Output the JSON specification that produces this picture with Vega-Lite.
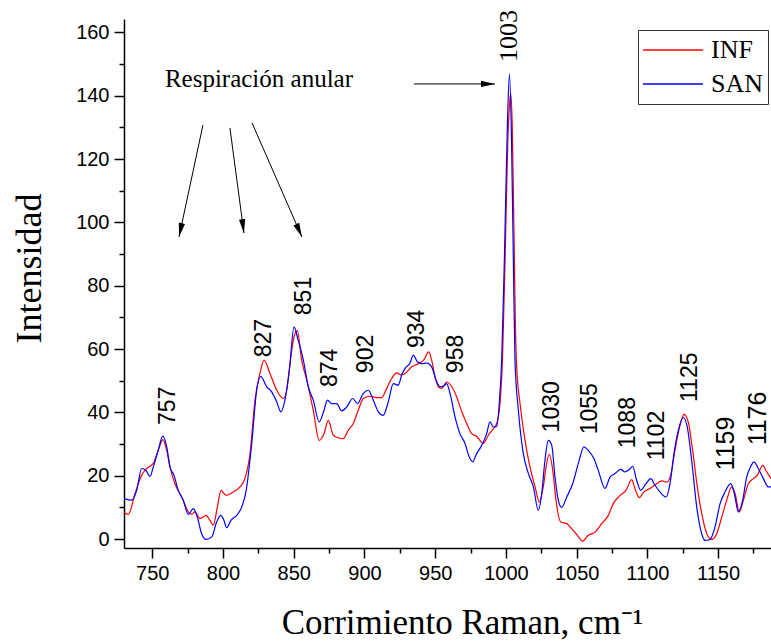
{
  "$schema": "https://vega.github.io/schema/vega-lite/v6.json",
  "width": 647,
  "height": 529,
  "autosize": {"type": "none"},
  "padding": {"left": 124, "top": 19, "right": 0, "bottom": 94},
  "config": {
    "view": {"stroke": null},
    "axis": {"grid": false, "domainColor": "black", "tickColor": "black", "labelColor": "black", "titleColor": "black", "domainWidth": 1.5, "tickWidth": 1.5}
  },
  "datasets": {
    "spectra": [
      {"x":730,"y":8.5,"s":"INF"},{"x":733,"y":7.8,"s":"INF"},{"x":737.8,"y":14.4,"s":"INF"},{"x":742.5,"y":20.2,"s":"INF"},{"x":746,"y":22.3,"s":"INF"},{"x":750.7,"y":23.9,"s":"INF"},{"x":755,"y":29.1,"s":"INF"},{"x":757.4,"y":31.4,"s":"INF"},{"x":760.2,"y":28,"s":"INF"},{"x":762.5,"y":22.8,"s":"INF"},{"x":766,"y":17.5,"s":"INF"},{"x":770.8,"y":13.3,"s":"INF"},{"x":775.5,"y":8.6,"s":"INF"},{"x":777.8,"y":7.8,"s":"INF"},{"x":780.2,"y":8.6,"s":"INF"},{"x":783.7,"y":6.5,"s":"INF"},{"x":788,"y":7.5,"s":"INF"},{"x":790.8,"y":5.9,"s":"INF"},{"x":793.1,"y":4.4,"s":"INF"},{"x":796,"y":10.1,"s":"INF"},{"x":798.6,"y":15.4,"s":"INF"},{"x":802.1,"y":13.8,"s":"INF"},{"x":807.3,"y":14.9,"s":"INF"},{"x":812,"y":16.5,"s":"INF"},{"x":815.5,"y":19.1,"s":"INF"},{"x":819.1,"y":27,"s":"INF"},{"x":822.6,"y":43.9,"s":"INF"},{"x":826.1,"y":52.3,"s":"INF"},{"x":829,"y":56.5,"s":"INF"},{"x":833.2,"y":52.3,"s":"INF"},{"x":838,"y":47,"s":"INF"},{"x":842.6,"y":44.4,"s":"INF"},{"x":845,"y":47,"s":"INF"},{"x":847.5,"y":56,"s":"INF"},{"x":850,"y":63.5,"s":"INF"},{"x":852.5,"y":65.8,"s":"INF"},{"x":855.6,"y":56.5,"s":"INF"},{"x":859.2,"y":50.2,"s":"INF"},{"x":863.8,"y":40.7,"s":"INF"},{"x":868,"y":31.2,"s":"INF"},{"x":871.4,"y":33.3,"s":"INF"},{"x":874.4,"y":37.5,"s":"INF"},{"x":878,"y":32.8,"s":"INF"},{"x":881.5,"y":32,"s":"INF"},{"x":885,"y":31.7,"s":"INF"},{"x":888.6,"y":34.4,"s":"INF"},{"x":892.1,"y":36.5,"s":"INF"},{"x":895.6,"y":40.7,"s":"INF"},{"x":899.2,"y":44.4,"s":"INF"},{"x":903.9,"y":45.1,"s":"INF"},{"x":908.6,"y":44.7,"s":"INF"},{"x":912.2,"y":44.7,"s":"INF"},{"x":915.7,"y":47.6,"s":"INF"},{"x":919.2,"y":50.7,"s":"INF"},{"x":922.8,"y":52.5,"s":"INF"},{"x":926.3,"y":51.8,"s":"INF"},{"x":928.7,"y":52.3,"s":"INF"},{"x":933.4,"y":54.4,"s":"INF"},{"x":938.1,"y":55.4,"s":"INF"},{"x":942.1,"y":56.7,"s":"INF"},{"x":945.4,"y":59.1,"s":"INF"},{"x":947.5,"y":56.5,"s":"INF"},{"x":949.9,"y":51.2,"s":"INF"},{"x":952.2,"y":48.1,"s":"INF"},{"x":954.6,"y":47.6,"s":"INF"},{"x":958.1,"y":49.6,"s":"INF"},{"x":961.7,"y":48.1,"s":"INF"},{"x":965.2,"y":44.9,"s":"INF"},{"x":968.8,"y":40.2,"s":"INF"},{"x":972.3,"y":36.5,"s":"INF"},{"x":975.8,"y":33.3,"s":"INF"},{"x":979.3,"y":32.5,"s":"INF"},{"x":984,"y":30.2,"s":"INF"},{"x":987.6,"y":32.8,"s":"INF"},{"x":991.1,"y":34.9,"s":"INF"},{"x":993.5,"y":36.5,"s":"INF"},{"x":995.8,"y":42.8,"s":"INF"},{"x":997.7,"y":58.6,"s":"INF"},{"x":999.5,"y":90,"s":"INF"},{"x":1001.3,"y":125,"s":"INF"},{"x":1002.5,"y":137,"s":"INF"},{"x":1003.4,"y":140.7,"s":"INF"},{"x":1004.5,"y":130,"s":"INF"},{"x":1005.6,"y":100,"s":"INF"},{"x":1006.6,"y":70,"s":"INF"},{"x":1007.6,"y":54.4,"s":"INF"},{"x":1010,"y":42.8,"s":"INF"},{"x":1013.5,"y":31.2,"s":"INF"},{"x":1017,"y":22.8,"s":"INF"},{"x":1020.6,"y":16.5,"s":"INF"},{"x":1023.7,"y":11.7,"s":"INF"},{"x":1026.4,"y":16.5,"s":"INF"},{"x":1028.8,"y":23.9,"s":"INF"},{"x":1030.7,"y":26.8,"s":"INF"},{"x":1033.1,"y":21.7,"s":"INF"},{"x":1035.4,"y":12.3,"s":"INF"},{"x":1038.7,"y":5.4,"s":"INF"},{"x":1043,"y":4.9,"s":"INF"},{"x":1046.5,"y":3.3,"s":"INF"},{"x":1050.5,"y":1.2,"s":"INF"},{"x":1054.3,"y":-0.6,"s":"INF"},{"x":1058.2,"y":1.2,"s":"INF"},{"x":1063,"y":2.2,"s":"INF"},{"x":1067.7,"y":4.9,"s":"INF"},{"x":1072.4,"y":7.5,"s":"INF"},{"x":1075.9,"y":11.2,"s":"INF"},{"x":1080.7,"y":13.8,"s":"INF"},{"x":1084.9,"y":15.4,"s":"INF"},{"x":1088.9,"y":18.8,"s":"INF"},{"x":1091.2,"y":16,"s":"INF"},{"x":1094.3,"y":13.1,"s":"INF"},{"x":1097.6,"y":14.9,"s":"INF"},{"x":1101.9,"y":16,"s":"INF"},{"x":1106.6,"y":17.5,"s":"INF"},{"x":1110.1,"y":18.4,"s":"INF"},{"x":1113.7,"y":18,"s":"INF"},{"x":1116.5,"y":20.2,"s":"INF"},{"x":1119.5,"y":28,"s":"INF"},{"x":1123.1,"y":36,"s":"INF"},{"x":1125.9,"y":39.4,"s":"INF"},{"x":1128.9,"y":37,"s":"INF"},{"x":1132,"y":28,"s":"INF"},{"x":1135.3,"y":16.5,"s":"INF"},{"x":1138.4,"y":8.1,"s":"INF"},{"x":1142,"y":1.7,"s":"INF"},{"x":1145.5,"y":-0.1,"s":"INF"},{"x":1149,"y":1.7,"s":"INF"},{"x":1152.6,"y":7,"s":"INF"},{"x":1156.1,"y":12.3,"s":"INF"},{"x":1159.6,"y":16.5,"s":"INF"},{"x":1162,"y":14.4,"s":"INF"},{"x":1165,"y":8.6,"s":"INF"},{"x":1167.9,"y":12.3,"s":"INF"},{"x":1171.4,"y":17.5,"s":"INF"},{"x":1174.9,"y":19.1,"s":"INF"},{"x":1177.8,"y":20.2,"s":"INF"},{"x":1181.6,"y":23.3,"s":"INF"},{"x":1184.4,"y":21.2,"s":"INF"},{"x":1187.4,"y":19.1,"s":"INF"},
      {"x":730,"y":12.8,"s":"SAN"},{"x":735.4,"y":12.3,"s":"SAN"},{"x":739,"y":15.4,"s":"SAN"},{"x":742.5,"y":22.3,"s":"SAN"},{"x":745.5,"y":21.7,"s":"SAN"},{"x":748.4,"y":19.8,"s":"SAN"},{"x":750.7,"y":22.8,"s":"SAN"},{"x":754.2,"y":28,"s":"SAN"},{"x":757.4,"y":32.5,"s":"SAN"},{"x":760.2,"y":29.1,"s":"SAN"},{"x":762.5,"y":22.8,"s":"SAN"},{"x":765.3,"y":20.2,"s":"SAN"},{"x":768.4,"y":15.4,"s":"SAN"},{"x":771.9,"y":12.3,"s":"SAN"},{"x":775.5,"y":7.8,"s":"SAN"},{"x":779,"y":9.6,"s":"SAN"},{"x":781.8,"y":7,"s":"SAN"},{"x":784.9,"y":1.7,"s":"SAN"},{"x":788,"y":-0.1,"s":"SAN"},{"x":792,"y":0.7,"s":"SAN"},{"x":795.5,"y":5.4,"s":"SAN"},{"x":798.4,"y":7.5,"s":"SAN"},{"x":800.7,"y":5.9,"s":"SAN"},{"x":802.6,"y":3.6,"s":"SAN"},{"x":805.6,"y":5.9,"s":"SAN"},{"x":809.7,"y":7.5,"s":"SAN"},{"x":813.2,"y":10.1,"s":"SAN"},{"x":816.2,"y":14.9,"s":"SAN"},{"x":820.3,"y":30.2,"s":"SAN"},{"x":823.8,"y":47,"s":"SAN"},{"x":826.6,"y":51.4,"s":"SAN"},{"x":830.9,"y":48.1,"s":"SAN"},{"x":834.4,"y":46.5,"s":"SAN"},{"x":838,"y":43.3,"s":"SAN"},{"x":840.8,"y":40.2,"s":"SAN"},{"x":843.8,"y":43.9,"s":"SAN"},{"x":846.9,"y":53.3,"s":"SAN"},{"x":850.2,"y":67,"s":"SAN"},{"x":853,"y":63,"s":"SAN"},{"x":856.8,"y":56.5,"s":"SAN"},{"x":860.3,"y":48.1,"s":"SAN"},{"x":863.8,"y":43.9,"s":"SAN"},{"x":868,"y":37,"s":"SAN"},{"x":871.4,"y":40.7,"s":"SAN"},{"x":873.8,"y":43.9,"s":"SAN"},{"x":876.8,"y":42.8,"s":"SAN"},{"x":880.4,"y":42.8,"s":"SAN"},{"x":883.9,"y":40.5,"s":"SAN"},{"x":887.4,"y":41.7,"s":"SAN"},{"x":891.7,"y":44.4,"s":"SAN"},{"x":895,"y":42.8,"s":"SAN"},{"x":899.2,"y":46,"s":"SAN"},{"x":902.7,"y":47,"s":"SAN"},{"x":906.2,"y":43.9,"s":"SAN"},{"x":909.8,"y":40.2,"s":"SAN"},{"x":913.3,"y":39.1,"s":"SAN"},{"x":916.8,"y":43.3,"s":"SAN"},{"x":920.4,"y":49.1,"s":"SAN"},{"x":923.9,"y":48.6,"s":"SAN"},{"x":926.3,"y":51.8,"s":"SAN"},{"x":928.7,"y":53.9,"s":"SAN"},{"x":932.2,"y":55.6,"s":"SAN"},{"x":934.5,"y":58.1,"s":"SAN"},{"x":937.4,"y":56,"s":"SAN"},{"x":940.5,"y":55.4,"s":"SAN"},{"x":944,"y":55.6,"s":"SAN"},{"x":947.5,"y":54.4,"s":"SAN"},{"x":950.6,"y":50.2,"s":"SAN"},{"x":953.4,"y":48.1,"s":"SAN"},{"x":955.8,"y":48.3,"s":"SAN"},{"x":958.1,"y":49.1,"s":"SAN"},{"x":960.5,"y":46,"s":"SAN"},{"x":964,"y":38.6,"s":"SAN"},{"x":967.5,"y":33.3,"s":"SAN"},{"x":971.1,"y":30.2,"s":"SAN"},{"x":974.1,"y":25.9,"s":"SAN"},{"x":976.5,"y":24.4,"s":"SAN"},{"x":979.3,"y":27,"s":"SAN"},{"x":982.9,"y":29.6,"s":"SAN"},{"x":986.4,"y":33.3,"s":"SAN"},{"x":988.7,"y":37,"s":"SAN"},{"x":991.1,"y":35.4,"s":"SAN"},{"x":993.5,"y":35.6,"s":"SAN"},{"x":995.3,"y":42.8,"s":"SAN"},{"x":997,"y":56.5,"s":"SAN"},{"x":999,"y":90,"s":"SAN"},{"x":1001,"y":130,"s":"SAN"},{"x":1002.5,"y":146.8,"s":"SAN"},{"x":1004,"y":125,"s":"SAN"},{"x":1005.2,"y":90,"s":"SAN"},{"x":1006.4,"y":56.5,"s":"SAN"},{"x":1008.8,"y":40.7,"s":"SAN"},{"x":1012.3,"y":27,"s":"SAN"},{"x":1015.9,"y":20.7,"s":"SAN"},{"x":1019.4,"y":16.5,"s":"SAN"},{"x":1022.9,"y":9.1,"s":"SAN"},{"x":1025.3,"y":14.4,"s":"SAN"},{"x":1027.6,"y":24.9,"s":"SAN"},{"x":1030,"y":31.2,"s":"SAN"},{"x":1032.4,"y":29.6,"s":"SAN"},{"x":1034.7,"y":19.6,"s":"SAN"},{"x":1037,"y":12.3,"s":"SAN"},{"x":1039.4,"y":10,"s":"SAN"},{"x":1043,"y":13.3,"s":"SAN"},{"x":1047.2,"y":17.5,"s":"SAN"},{"x":1051.2,"y":23.9,"s":"SAN"},{"x":1055.2,"y":29.1,"s":"SAN"},{"x":1058.2,"y":28,"s":"SAN"},{"x":1062.3,"y":25.4,"s":"SAN"},{"x":1065.3,"y":21.7,"s":"SAN"},{"x":1070,"y":16,"s":"SAN"},{"x":1073.6,"y":19.6,"s":"SAN"},{"x":1077.1,"y":20.7,"s":"SAN"},{"x":1081.1,"y":22,"s":"SAN"},{"x":1084.2,"y":21.2,"s":"SAN"},{"x":1087.2,"y":22,"s":"SAN"},{"x":1089.6,"y":23,"s":"SAN"},{"x":1092.4,"y":18.6,"s":"SAN"},{"x":1095.3,"y":15.4,"s":"SAN"},{"x":1099,"y":17.5,"s":"SAN"},{"x":1102.4,"y":19.1,"s":"SAN"},{"x":1105.4,"y":17,"s":"SAN"},{"x":1108.9,"y":14.9,"s":"SAN"},{"x":1113.2,"y":13.3,"s":"SAN"},{"x":1116,"y":17.5,"s":"SAN"},{"x":1118.8,"y":27,"s":"SAN"},{"x":1121.9,"y":34.4,"s":"SAN"},{"x":1125.4,"y":38.4,"s":"SAN"},{"x":1128.2,"y":35.4,"s":"SAN"},{"x":1131.3,"y":24.9,"s":"SAN"},{"x":1134.9,"y":10.1,"s":"SAN"},{"x":1138.4,"y":1.7,"s":"SAN"},{"x":1140.7,"y":-0.4,"s":"SAN"},{"x":1144.3,"y":-0.1,"s":"SAN"},{"x":1147.8,"y":3.8,"s":"SAN"},{"x":1151.4,"y":11.2,"s":"SAN"},{"x":1154.9,"y":14.9,"s":"SAN"},{"x":1158.9,"y":17.5,"s":"SAN"},{"x":1161.5,"y":14.4,"s":"SAN"},{"x":1164.3,"y":8.6,"s":"SAN"},{"x":1167.4,"y":12.3,"s":"SAN"},{"x":1170.2,"y":19.6,"s":"SAN"},{"x":1173.1,"y":23,"s":"SAN"},{"x":1175.4,"y":24.4,"s":"SAN"},{"x":1178.4,"y":22.3,"s":"SAN"},{"x":1182,"y":19.1,"s":"SAN"},{"x":1185.5,"y":16.5,"s":"SAN"},{"x":1187.4,"y":16.5,"s":"SAN"}
    ],
    "picos": [
      {"x":761.1,"y":36,"t":"757"},{"x":829,"y":57.4,"t":"827"},{"x":857.2,"y":70.7,"t":"851"},{"x":875.6,"y":48,"t":"874"},{"x":901.1,"y":52.4,"t":"902"},{"x":937.2,"y":60.3,"t":"934"},{"x":964.7,"y":52.4,"t":"958"},{"x":1032.6,"y":33.7,"t":"1030"},{"x":1059.5,"y":33.1,"t":"1055"},{"x":1086.3,"y":28.7,"t":"1088"},{"x":1106.8,"y":24.9,"t":"1102"},{"x":1129.9,"y":43.3,"t":"1125"}
    ],
    "picos_grandes": [
      {"x":1155.6,"y":21.7,"t":"1159"},{"x":1178.2,"y":29.6,"t":"1176"}
    ],
    "pico_central": [
      {"x":1002.5,"y":150.6,"t":"1003"}
    ],
    "nota": [
      {"x":825.4,"y":142.7,"t":"Respiración anular"}
    ],
    "flechas": [
      {"id":"a1","x":785.8,"y":130.7,"x2":768.9,"y2":95.4},
      {"id":"a2","x":804.9,"y":129.8,"x2":814.8,"y2":96.6},
      {"id":"a3","x":820.5,"y":131.4,"x2":855.8,"y2":95.4},
      {"id":"a4","x":935.0,"y":143.7,"x2":992.3,"y2":143.7}
    ],
    "puntas": [
      {"id":"a1","x":768.9,"y":95.4},
      {"id":"a2","x":814.8,"y":96.6},
      {"id":"a3","x":855.8,"y":95.4},
      {"id":"a4","x":992.3,"y":143.7}
    ]
  },
  "encoding": {
    "x": {"field": "x", "type": "quantitative", "scale": {"domain": [730, 1187.4], "nice": false, "zero": false}, "axis": null},
    "y": {"field": "y", "type": "quantitative", "scale": {"domain": [-2.8, 164.2], "nice": false, "zero": false}, "axis": null}
  },
  "layer": [
    {
      "data": {"values": [{"x": 750, "y": 0}]},
      "mark": {"type": "point", "opacity": 0},
      "encoding": {
        "x": {"field": "x", "type": "quantitative", "scale": {"domain": [730, 1187.4], "nice": false, "zero": false},
          "axis": {"orient": "bottom", "values": [775, 825, 875, 925, 975, 1025, 1075, 1125, 1175], "labels": false, "domain": false, "tickSize": 5, "title": null}},
        "y": {"field": "y", "type": "quantitative", "scale": {"domain": [-2.8, 164.2], "nice": false, "zero": false},
          "axis": {"orient": "left", "values": [10, 30, 50, 70, 90, 110, 130, 150], "labels": false, "domain": false, "tickSize": 5, "title": null}}
      }
    },
    {
      "data": {"values": [{"x": 750, "y": 0}]},
      "mark": {"type": "point", "opacity": 0},
      "encoding": {
        "x": {"field": "x", "type": "quantitative", "scale": {"domain": [730, 1187.4], "nice": false, "zero": false},
          "axis": {"orient": "bottom", "values": [750, 800, 850, 900, 950, 1000, 1050, 1100, 1150], "format": "d", "tickSize": 10, "labelFont": "Liberation Sans", "labelFontSize": 20, "labelPadding": 5,
            "title": "Corrimiento Raman, cm⁻¹", "titleFont": "Liberation Serif", "titleFontSize": 35, "titleFontWeight": "normal", "titleX": 338, "titleY": 85, "titleBaseline": "alphabetic", "titleAlign": "center"}},
        "y": {"field": "y", "type": "quantitative", "scale": {"domain": [-2.8, 164.2], "nice": false, "zero": false},
          "axis": {"orient": "left", "values": [0, 20, 40, 60, 80, 100, 120, 140, 160], "format": "d", "tickSize": 10, "labelFont": "Liberation Sans", "labelFontSize": 20, "labelPadding": 5,
            "title": "Intensidad", "titleFont": "Liberation Serif", "titleFontSize": 36, "titleFontWeight": "normal", "titleAngle": 270, "titleX": -84, "titleY": 249, "titleBaseline": "alphabetic", "titleAlign": "center"}}
      }
    },
    {
      "data": {"name": "spectra"},
      "mark": {"type": "line", "strokeWidth": 1.2, "interpolate": "monotone", "clip": true},
      "encoding": {
        "color": {"field": "s", "type": "nominal", "scale": {"domain": ["INF", "SAN"], "range": ["#ff0000", "#0000ff"]},
          "legend": {"title": null, "orient": "none", "legendX": 514, "legendY": 11, "direction": "vertical", "padding": 4, "strokeColor": "#333333",
            "symbolType": "stroke", "symbolSize": 3600, "symbolStrokeWidth": 1.3, "clipHeight": 32, "rowPadding": 2,
            "labelFont": "Liberation Serif", "labelFontSize": 26, "labelColor": "black", "labelOffset": 7}}
      }
    },
    {
      "data": {"name": "flechas"},
      "mark": {"type": "rule", "color": "black", "strokeWidth": 1},
      "encoding": {
        "x2": {"field": "x2"},
        "y2": {"field": "y2"}
      }
    },
    {
      "data": {"name": "puntas"},
      "transform": [{"filter": "datum.id == 'a1'"}],
      "mark": {"type": "point", "shape": "M0,0L0.45,2L-0.45,2Z", "filled": true, "color": "black", "size": 196, "angle": 192, "opacity": 1}
    },
    {
      "data": {"name": "puntas"},
      "transform": [{"filter": "datum.id == 'a2'"}],
      "mark": {"type": "point", "shape": "M0,0L0.45,2L-0.45,2Z", "filled": true, "color": "black", "size": 196, "angle": 172.4, "opacity": 1}
    },
    {
      "data": {"name": "puntas"},
      "transform": [{"filter": "datum.id == 'a3'"}],
      "mark": {"type": "point", "shape": "M0,0L0.45,2L-0.45,2Z", "filled": true, "color": "black", "size": 196, "angle": 156.3, "opacity": 1}
    },
    {
      "data": {"name": "puntas"},
      "transform": [{"filter": "datum.id == 'a4'"}],
      "mark": {"type": "point", "shape": "M0,0L0.45,2L-0.45,2Z", "filled": true, "color": "black", "size": 196, "angle": 90, "opacity": 1}
    },
    {
      "data": {"name": "picos"},
      "mark": {"type": "text", "angle": 270, "align": "left", "baseline": "middle", "font": "Liberation Sans", "fontSize": 23, "color": "black"},
      "encoding": {"text": {"field": "t"}}
    },
    {
      "data": {"name": "picos_grandes"},
      "mark": {"type": "text", "angle": 270, "align": "left", "baseline": "middle", "font": "Liberation Sans", "fontSize": 25, "color": "black"},
      "encoding": {"text": {"field": "t"}}
    },
    {
      "data": {"name": "pico_central"},
      "mark": {"type": "text", "angle": 270, "align": "left", "baseline": "middle", "font": "Liberation Serif", "fontSize": 26, "color": "black"},
      "encoding": {"text": {"field": "t"}}
    },
    {
      "data": {"name": "nota"},
      "mark": {"type": "text", "align": "center", "baseline": "alphabetic", "font": "Liberation Serif", "fontSize": 25, "color": "black"},
      "encoding": {"text": {"field": "t"}}
    }
  ],
  "resolve": {"axis": {"x": "independent", "y": "independent"}}
}
